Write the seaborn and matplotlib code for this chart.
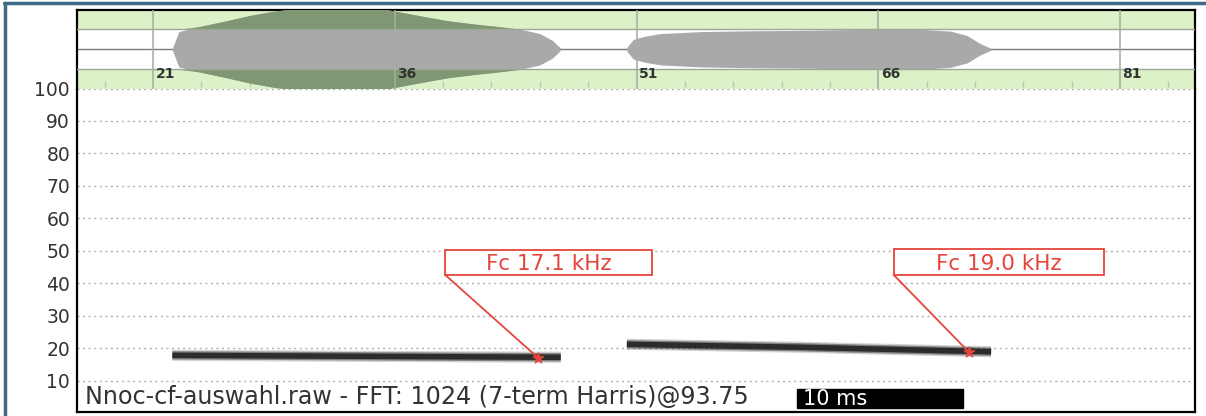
import numpy as np
import pandas as pd
import matplotlib
matplotlib.use("Agg")
import matplotlib.pyplot as plt
from matplotlib.patches import Rectangle
from matplotlib.transforms import Affine2D
import seaborn as sns

# ---------------- data ----------------
time_ticks = [21, 36, 51, 66, 81]                 # ms
freq_ticks = [10, 20, 30, 40, 50, 60, 70, 80, 90, 100]  # kHz

# waveform envelopes (normalised amplitude)
env1_t = [22.2, 22.6, 23.9, 25.5, 27.0, 28.5, 30.1, 31.5, 33.2, 35.0, 36.3, 38.0, 39.4, 41.0, 42.6, 43.8, 45.0, 45.8, 46.3]
env1_a = [0.02, 0.45, 0.58, 0.72, 0.86, 0.97, 1.05, 1.08, 1.08, 1.05, 0.95, 0.82, 0.72, 0.64, 0.57, 0.51, 0.40, 0.22, 0.02]
env2_t = [50.4, 50.8, 51.5, 52.5, 55.0, 58.0, 61.0, 64.0, 67.0, 69.0, 70.5, 71.5, 72.3, 73.0]
env2_a = [0.05, 0.25, 0.33, 0.40, 0.45, 0.47, 0.48, 0.50, 0.52, 0.50, 0.46, 0.35, 0.15, 0.02]

# spectrogram call traces (kHz)
call1_t = [22.2, 30.0, 38.0, 46.3]
call1_f = [17.9, 17.7, 17.5, 17.3]
call2_t = [50.4, 55.0, 61.0, 67.0, 73.0]
call2_f = [21.3, 20.9, 20.4, 19.7, 19.0]

# characteristic frequency markers
fc_t = [44.9, 71.6]
fc_f = [17.1, 19.0]
fc_labels = ["Fc 17.1 kHz", "Fc 19.0 kHz"]

caption = "Nnoc-cf-auswahl.raw - FFT: 1024 (7-term Harris)@93.75"
scale_label = "10 ms"
scale_ms = 10.3

# ---------------- style ----------------
sns.set_theme(style="white")
plt.rcParams["font.family"] = ["DejaVu Sans"]

W, H = 1206, 416
fig = plt.figure(figsize=(W / 100, H / 100), dpi=100)

def px(x0, y0, x1, y1):
    return [x0 / W, 1 - y1 / H, (x1 - x0) / W, (y1 - y0) / H]

XL = (16.285, 85.65)

# outer frame (blue-grey)
fig.add_artist(plt.Line2D([4 / W, 1], [1 - 3 / H, 1 - 3 / H], color="#3f6a87", lw=2.5))
fig.add_artist(plt.Line2D([5 / W, 5 / W], [0, 1 - 3 / H], color="#3f6a87", lw=2.5))

# ---------------- waveform panel ----------------
axw = fig.add_axes(px(77, 10, 1195, 88.5))
axw.set_xlim(*XL)
axw.set_ylim(-1, 1)
band = 0.51
axw.axhspan(band, 1, color="#dcf1c8", zorder=0, lw=0)
axw.axhspan(-1, -band, color="#dcf1c8", zorder=0, lw=0)
axw.axhline(band, color="#9aa894", lw=1.0, zorder=4)
axw.axhline(-band, color="#9aa894", lw=1.0, zorder=4)
axw.axhline(0, color="#7a7a7a", lw=1.0, zorder=1)
for t in time_ticks:
    axw.axvline(t, color="#a9ad9f", lw=1.5, zorder=4, alpha=0.8)
    axw.text(t + 0.15, -0.62, str(t), fontsize=10, color="#333333",
             ha="left", va="center", fontweight="bold", zorder=5)
minor = np.arange(18, 86, 3)
axw.vlines([m for m in minor if m not in time_ticks], -0.95, -0.82, color="#b8c8a8", lw=1.0, zorder=1)

for et, ea in [(env1_t, env1_a), (env2_t, env2_a)]:
    ea = np.array(ea)
    axw.fill_between(et, -ea, ea, color="#a9a9a9", lw=0, zorder=3)
    hi = np.maximum(ea, band)
    axw.fill_between(et, band, hi, where=ea > band, interpolate=True, color="#7f9772", lw=0, zorder=3)
    axw.fill_between(et, -hi, -band, where=ea > band, interpolate=True, color="#7f9772", lw=0, zorder=3)

axw.set_xticks([]); axw.set_yticks([])
for s in ["left", "top", "right"]:
    axw.spines[s].set_color("black"); axw.spines[s].set_linewidth(1.6)
axw.spines["bottom"].set_visible(False)

# ---------------- spectrogram panel ----------------
ax = fig.add_axes(px(77, 88.5, 1195, 412))
ax.set_xlim(*XL)
ax.set_ylim(0.46, 100)
for f in freq_ticks:
    ax.axhline(f, color="#b0b0b0", lw=1.0, ls=(0, (1.5, 2.5)), zorder=0)

df = pd.concat([
    pd.DataFrame({"t": call1_t, "f": call1_f, "call": "c1"}),
    pd.DataFrame({"t": call2_t, "f": call2_f, "call": "c2"}),
])
for lw, a in [(8.0, 0.2), (6.0, 0.45), (4.0, 0.85)]:
    sns.lineplot(data=df, x="t", y="f", units="call", estimator=None, color="#1e1e1e",
                 lw=lw, alpha=a, ax=ax, legend=False, solid_capstyle="butt", zorder=3)

red = "#e5453b"
sns.scatterplot(x=fc_t, y=fc_f, marker="*", s=70, color=red, edgecolor=red, ax=ax, zorder=6)

# callout boxes (pixel geometry relative to each marker)
box_geo = [(-93, 83, 207, 25), (-75, 77, 210, 26)]
for t, f, lab, (bx, by, bw, bh) in zip(fc_t, fc_f, fc_labels, box_geo):
    disp = ax.transData.transform((t, f))
    tr = Affine2D().translate(*disp)
    ax.add_artist(Rectangle((bx, by), bw, bh, transform=tr, fc="white", ec=red, lw=1.3, zorder=7))
    ax.add_artist(plt.Line2D([bx, 0], [by, 0], transform=tr, color=red, lw=1.3, zorder=7))
    ax.annotate(lab, xy=(t, f), xytext=(bx + bw / 2, by + bh / 2), textcoords="offset pixels",
                ha="center", va="center_baseline", fontsize=15.5, color=red, zorder=8)

ax.text(0.007, 0.047, caption, transform=ax.transAxes, fontsize=17.2, color="#333333",
        ha="left", va="center", zorder=8)
# 10 ms scale bar
ax.add_patch(Rectangle((60.96, 1.7), scale_ms, 5.8, fc="black", ec="black", zorder=8))
ax.text(61.3, 4.6, scale_label, fontsize=15, color="white", ha="left", va="center", zorder=9)

ax.set_xticks([])
ax.set_yticks(freq_ticks)
ax.set_yticklabels([str(v) for v in freq_ticks], fontsize=13.5, color="#333333")
ax.tick_params(axis="y", length=0, pad=5)
ax.set_xlabel(""); ax.set_ylabel("")
for s in ["left", "bottom", "right"]:
    ax.spines[s].set_color("black"); ax.spines[s].set_linewidth(1.6)
ax.spines["top"].set_visible(False)

fig.savefig("out.png", dpi=100)
